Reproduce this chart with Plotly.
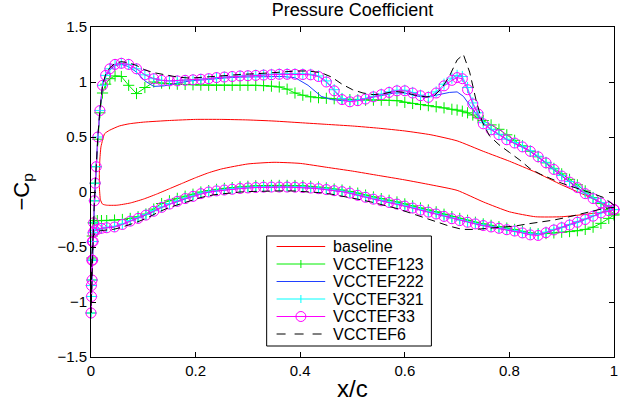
import plotly.graph_objects as go

# ---------------- data ----------------
# Stations for the marker series (fine), leading edge -> trailing edge
x_upper_fine = [0.0, 0.001, 0.002, 0.003, 0.004, 0.005, 0.0065, 0.008, 0.010, 0.013,
                0.017, 0.022, 0.028, 0.036, 0.046, 0.058, 0.072, 0.087, 0.103, 0.12,
                0.135, 0.15, 0.165, 0.18, 0.195, 0.21, 0.225, 0.24, 0.255, 0.27,
                0.285, 0.30, 0.315, 0.33, 0.345, 0.36, 0.375, 0.39, 0.405, 0.42,
                0.435, 0.45, 0.465, 0.48, 0.495, 0.51, 0.525, 0.54, 0.555, 0.57,
                0.585, 0.60, 0.615, 0.63, 0.645, 0.66, 0.675, 0.69, 0.70, 0.71,
                0.72, 0.73, 0.74, 0.75, 0.765, 0.78, 0.795, 0.81, 0.825, 0.84,
                0.855, 0.87, 0.885, 0.90, 0.915, 0.93, 0.945, 0.96, 0.975, 0.99,
                1.0]
x_lower_fine = [0.0008, 0.0016, 0.0025, 0.004, 0.007, 0.012, 0.02, 0.03,
                0.045, 0.06, 0.075, 0.09, 0.105, 0.12, 0.135, 0.15, 0.165, 0.18,
                0.195, 0.21, 0.225, 0.24, 0.255, 0.27, 0.285, 0.30, 0.315, 0.33,
                0.345, 0.36, 0.375, 0.39, 0.405, 0.42, 0.435, 0.45, 0.465, 0.48,
                0.495, 0.51, 0.525, 0.54, 0.555, 0.57, 0.585, 0.60, 0.615, 0.63,
                0.645, 0.66, 0.675, 0.69, 0.705, 0.72, 0.735, 0.75, 0.765, 0.78,
                0.795, 0.81, 0.825, 0.84, 0.855, 0.87, 0.885, 0.90, 0.915, 0.93,
                0.945, 0.96, 0.975, 0.99, 1.0]

# Stations for the line-only series
x_upper_line = [0.0, 0.001, 0.002, 0.003, 0.004, 0.005, 0.0065, 0.008, 0.010, 0.013,
                0.017, 0.022, 0.028, 0.036, 0.046, 0.058, 0.072, 0.087, 0.103, 0.12,
                0.14, 0.165, 0.19, 0.215, 0.24, 0.265, 0.29, 0.315, 0.34, 0.365,
                0.39, 0.415, 0.44, 0.46, 0.48, 0.50, 0.52, 0.54, 0.56, 0.58,
                0.60, 0.62, 0.64, 0.655, 0.67, 0.685, 0.70, 0.712, 0.724, 0.736,
                0.748, 0.762, 0.78, 0.80, 0.82, 0.84, 0.86, 0.88, 0.90, 0.92,
                0.94, 0.96, 0.98, 1.0]
x_lower_line = [0.0008, 0.0016, 0.0025, 0.004, 0.007, 0.012, 0.02, 0.03, 0.042, 0.056,
                0.072, 0.09, 0.11, 0.13, 0.15, 0.17, 0.19, 0.21, 0.235, 0.26,
                0.285, 0.31, 0.335, 0.36, 0.385, 0.41, 0.435, 0.46, 0.485, 0.51,
                0.535, 0.56, 0.585, 0.61, 0.635, 0.66, 0.685, 0.71, 0.735, 0.76,
                0.785, 0.81, 0.835, 0.86, 0.885, 0.91, 0.935, 0.96, 0.98, 1.0]

# baseline
base_x_upper = [0.018, 0.016, 0.016, 0.017, 0.019, 0.022, 0.026, 0.035, 0.054, 0.073,
                0.1, 0.15, 0.2, 0.25, 0.3, 0.35, 0.4, 0.45, 0.5, 0.55,
                0.6, 0.65, 0.7, 0.75, 0.8, 0.85, 0.9, 0.95, 1.0]
base_upper = [-0.07, 0.05, 0.17, 0.3, 0.41, 0.47, 0.53, 0.56, 0.6, 0.62,
              0.635, 0.65, 0.66, 0.66, 0.655, 0.645, 0.63, 0.615, 0.6, 0.58,
              0.555, 0.52, 0.465, 0.37, 0.28, 0.18, 0.065, -0.04, -0.16]
base_x_lower = [0.022, 0.03, 0.05, 0.075, 0.1, 0.125, 0.15, 0.175, 0.2, 0.225,
                0.25, 0.3, 0.35, 0.4, 0.45, 0.5, 0.55, 0.6, 0.65, 0.7,
                0.75, 0.8, 0.85, 0.9, 0.95, 1.0]
base_lower = [-0.11, -0.12, -0.12, -0.1, -0.065, -0.02, 0.03, 0.08, 0.13, 0.175,
              0.21, 0.255, 0.27, 0.26, 0.225, 0.19, 0.15, 0.11, 0.065, 0.015,
              -0.09, -0.18, -0.225, -0.225, -0.2, -0.16]

# VCCTEF123 (fine stations)
v123_upper = [-1.10, -0.95, -0.80, -0.62, -0.45, -0.28, -0.08, 0.08, 0.23, 0.48,
              0.72, 0.9, 0.98, 1.03, 1.055, 1.05, 0.97, 0.895, 0.95, 1.0,
              0.99, 0.985, 0.98, 0.978, 0.975, 0.972, 0.97, 0.97, 0.97, 0.97,
              0.97, 0.97, 0.97, 0.967, 0.962, 0.955, 0.935, 0.9, 0.88, 0.865,
              0.857, 0.852, 0.848, 0.845, 0.84, 0.837, 0.835, 0.835, 0.835, 0.833,
              0.83, 0.815, 0.805, 0.795, 0.785, 0.775, 0.765, 0.752, 0.745, 0.735,
              0.72, 0.7, 0.675, 0.65, 0.61, 0.57, 0.52, 0.47, 0.42, 0.37,
              0.32, 0.265, 0.215, 0.165, 0.115, 0.065, 0.01, -0.05, -0.105, -0.16,
              -0.2]
v123_lower = [-0.85, -0.6, -0.4, -0.28, -0.26, -0.26, -0.26, -0.26,
              -0.255, -0.25, -0.24, -0.225, -0.2, -0.155, -0.105, -0.08, -0.058, -0.038,
              -0.02, 0.0, 0.013, 0.024, 0.033, 0.04, 0.047, 0.052, 0.056, 0.059,
              0.06, 0.06, 0.06, 0.059, 0.056, 0.051, 0.045, 0.037, 0.027, 0.018,
              0.005, -0.01, -0.028, -0.045, -0.06, -0.075, -0.09, -0.108, -0.126, -0.145,
              -0.163, -0.18, -0.202, -0.223, -0.24, -0.257, -0.275, -0.29, -0.303, -0.315,
              -0.328, -0.34, -0.357, -0.372, -0.38, -0.378, -0.372, -0.366, -0.36, -0.352,
              -0.34, -0.32, -0.285, -0.24, -0.21]

# VCCTEF222 (line stations)
v222_upper = [-1.10, -0.95, -0.80, -0.62, -0.45, -0.28, -0.08, 0.08, 0.23, 0.5,
              0.74, 0.96, 1.05, 1.11, 1.15, 1.16, 1.14, 1.09, 1.01, 0.96,
              0.965, 0.99, 1.01, 1.02, 1.03, 1.04, 1.045, 1.05, 1.05, 1.05,
              1.04, 0.97, 0.87, 0.84, 0.83, 0.83, 0.845, 0.86, 0.88, 0.9,
              0.9, 0.875, 0.86, 0.87, 0.89, 0.905, 0.91, 0.87, 0.79, 0.71,
              0.64, 0.58, 0.525, 0.465, 0.42, 0.37, 0.30, 0.22, 0.145, 0.07,
              0.0, -0.06, -0.11, -0.16]
v222_lower = [-0.85, -0.62, -0.45, -0.37, -0.35, -0.34, -0.33, -0.325, -0.32, -0.3,
              -0.27, -0.24, -0.2, -0.15, -0.11, -0.08, -0.045, -0.015, 0.005, 0.02,
              0.035, 0.04, 0.045, 0.045, 0.045, 0.04, 0.03, 0.015, 0.0, -0.03,
              -0.06, -0.085, -0.11, -0.14, -0.17, -0.2, -0.235, -0.265, -0.29, -0.315,
              -0.335, -0.355, -0.38, -0.385, -0.345, -0.31, -0.27, -0.22, -0.18, -0.16]

# VCCTEF321 (fine stations)
v321_upper = [-1.10, -0.95, -0.80, -0.62, -0.45, -0.28, -0.08, 0.08, 0.23, 0.5,
              0.74, 0.97, 1.06, 1.12, 1.16, 1.17, 1.16, 1.12, 1.065, 1.03,
              1.015, 1.01, 1.01, 1.015, 1.02, 1.025, 1.03, 1.04, 1.045, 1.05,
              1.055, 1.058, 1.062, 1.066, 1.07, 1.073, 1.075, 1.075, 1.073, 1.07,
              1.055, 1.01, 0.93, 0.85, 0.83, 0.835, 0.85, 0.87, 0.89, 0.91,
              0.925, 0.925, 0.905, 0.88, 0.865, 0.91, 0.98, 1.035, 1.06, 1.05,
              0.95, 0.81, 0.72, 0.63, 0.57, 0.525, 0.48, 0.45, 0.415, 0.375,
              0.325, 0.27, 0.21, 0.15, 0.095, 0.045, -0.01, -0.055, -0.095, -0.13,
              -0.16]
v321_lower = [-0.85, -0.62, -0.45, -0.37, -0.35, -0.34, -0.33, -0.32,
              -0.312, -0.29, -0.26, -0.235, -0.205, -0.17, -0.135, -0.105, -0.08, -0.055,
              -0.035, -0.01, 0.005, 0.015, 0.023, 0.03, 0.037, 0.042, 0.046, 0.049,
              0.05, 0.05, 0.05, 0.049, 0.046, 0.041, 0.035, 0.027, 0.017, 0.008,
              -0.005, -0.025, -0.043, -0.06, -0.075, -0.09, -0.105, -0.123, -0.141, -0.16,
              -0.178, -0.195, -0.217, -0.238, -0.255, -0.27, -0.285, -0.3, -0.313, -0.325,
              -0.338, -0.35, -0.365, -0.38, -0.385, -0.365, -0.34, -0.32, -0.295, -0.27,
              -0.245, -0.215, -0.188, -0.168, -0.16]

# VCCTEF33 (fine stations)
v33_upper = [-1.10, -0.95, -0.80, -0.62, -0.45, -0.28, -0.08, 0.08, 0.23, 0.5,
             0.74, 0.97, 1.06, 1.12, 1.16, 1.17, 1.16, 1.12, 1.065, 1.03,
             1.015, 1.01, 1.01, 1.015, 1.02, 1.025, 1.03, 1.04, 1.045, 1.05,
             1.055, 1.057, 1.06, 1.063, 1.066, 1.07, 1.07, 1.07, 1.068, 1.065,
             1.05, 1.0, 0.92, 0.84, 0.82, 0.83, 0.845, 0.865, 0.885, 0.905,
             0.92, 0.92, 0.9, 0.875, 0.86, 0.9, 0.965, 1.015, 1.04, 1.03,
             0.93, 0.8, 0.71, 0.62, 0.565, 0.52, 0.475, 0.445, 0.41, 0.37,
             0.32, 0.265, 0.205, 0.145, 0.09, 0.04, -0.015, -0.06, -0.1, -0.135,
             -0.16]
v33_lower = [-0.85, -0.62, -0.45, -0.37, -0.35, -0.34, -0.33, -0.325,
             -0.318, -0.295, -0.265, -0.24, -0.21, -0.175, -0.14, -0.11, -0.085, -0.06,
             -0.04, -0.015, 0.0, 0.01, 0.018, 0.025, 0.032, 0.037, 0.041, 0.044,
             0.045, 0.045, 0.045, 0.044, 0.041, 0.036, 0.03, 0.022, 0.012, 0.003,
             -0.01, -0.03, -0.048, -0.065, -0.08, -0.095, -0.11, -0.128, -0.146, -0.165,
             -0.183, -0.2, -0.222, -0.243, -0.26, -0.275, -0.29, -0.305, -0.318, -0.33,
             -0.343, -0.355, -0.372, -0.39, -0.395, -0.37, -0.345, -0.325, -0.3, -0.275,
             -0.25, -0.22, -0.19, -0.17, -0.16]

# VCCTEF6 (line stations)
v6_upper = [-1.10, -0.95, -0.80, -0.62, -0.45, -0.28, -0.08, 0.08, 0.23, 0.5,
            0.74, 0.97, 1.07, 1.13, 1.17, 1.185, 1.175, 1.15, 1.11, 1.085,
            1.065, 1.045, 1.035, 1.04, 1.05, 1.06, 1.07, 1.075, 1.08, 1.09,
            1.1, 1.1, 1.085, 1.045, 0.98, 0.93, 0.9, 0.885, 0.895, 0.915,
            0.905, 0.88, 0.865, 0.87, 0.94, 1.05, 1.2, 1.25, 1.09, 0.84,
            0.64, 0.51, 0.43, 0.36, 0.29, 0.21, 0.16, 0.12, 0.08, 0.05,
            0.015, -0.015, -0.05, -0.12]
v6_lower = [-0.85, -0.62, -0.47, -0.4, -0.38, -0.36, -0.35, -0.345, -0.34, -0.325,
            -0.3, -0.27, -0.23, -0.18, -0.14, -0.11, -0.08, -0.05, -0.025, -0.01,
            0.0, 0.005, 0.01, 0.01, 0.01, 0.005, -0.005, -0.02, -0.04, -0.065,
            -0.09, -0.12, -0.15, -0.19, -0.23, -0.27, -0.31, -0.34, -0.34, -0.33,
            -0.32, -0.31, -0.29, -0.275, -0.255, -0.23, -0.2, -0.17, -0.15, -0.14]

series_names = ["baseline", "VCCTEF123", "VCCTEF222", "VCCTEF321", "VCCTEF33", "VCCTEF6"]
x_ticks = [0, 0.2, 0.4, 0.6, 0.8, 1]
y_ticks = [-1.5, -1, -0.5, 0, 0.5, 1, 1.5]


def loop(xu, yu, xl, yl):
    """upper surface trailing edge -> leading edge, then lower surface back."""
    return list(xu)[::-1] + list(xl), list(yu)[::-1] + list(yl)


FONT = "Liberation Sans, Arial, Helvetica, sans-serif"
W, H = 621, 405
ML, MR, MT, MB = 91, 3, 27, 48
PW, PH = W - ML - MR, H - MT - MB


def px(xp):  # pixel -> paper x
    return (xp - ML) / PW


def py(yp):  # pixel -> paper y
    return (H - MB - yp) / PH


colors = ["#ff0000", "#00ee00", "#2040ff", "#00ffff", "#ff00ff", "#000000"]
dashes = ["solid", "solid", "solid", "solid", "solid", "8px,5px"]
symbols = [None, "cross", None, "cross", "circle", None]

fig = go.Figure()

bx, by = loop(base_x_upper, base_upper, base_x_lower, base_lower)
fig.add_trace(go.Scatter(x=bx, y=by, mode="lines", name=series_names[0],
                         line=dict(color=colors[0], width=1, shape="spline", smoothing=0.5),
                         cliponaxis=False, showlegend=False))

series = [
    (x_upper_fine, v123_upper, x_lower_fine, v123_lower),
    (x_upper_line, v222_upper, x_lower_line, v222_lower),
    (x_upper_fine, v321_upper, x_lower_fine, v321_lower),
    (x_upper_fine, v33_upper, x_lower_fine, v33_lower),
    (x_upper_line, v6_upper, x_lower_line, v6_lower),
]
for i, (xu, yu, xl, yl) in enumerate(series, start=1):
    xx, yy = loop(xu, yu, xl, yl)
    col = colors[i]
    kw = dict(mode="lines")
    if symbols[i] == "cross":
        kw = dict(mode="lines+markers",
                  marker=dict(symbol="cross-thin", size=8, color=col,
                              line=dict(width=1, color=col)))
    elif symbols[i] == "circle":
        kw = dict(mode="lines+markers",
                  marker=dict(symbol="circle-open", size=10, color=col,
                              line=dict(width=1, color=col)))
    fig.add_trace(go.Scatter(x=xx, y=yy, name=series_names[i],
                             line=dict(color=col, width=1, dash=dashes[i]),
                             cliponaxis=False, showlegend=False, **kw))

axis_common = dict(showline=True, linecolor="black", linewidth=1, mirror="ticks",
                   ticks="inside", ticklen=5, tickcolor="black", showgrid=False,
                   zeroline=False, ticklabeloverflow="allow",
                   tickfont=dict(family=FONT, size=15, color="black"))
fig.update_xaxes(range=[0, 1], tickvals=x_ticks, **axis_common)
fig.update_yaxes(range=[-1.5, 1.5], tickvals=y_ticks, **axis_common)

# ---- legend (box, sample lines/markers, labels) ----
shapes = [dict(type="rect", xref="paper", yref="paper", layer="above",
               x0=px(268), x1=px(434), y0=py(346), y1=py(236),
               line=dict(color="black", width=1), fillcolor="white")]
annotations = []
for i, name in enumerate(series_names):
    yc = 246.5 + 17.5 * i
    shapes.append(dict(type="line", xref="paper", yref="paper", layer="above",
                       x0=px(278), x1=px(327), y0=py(yc), y1=py(yc),
                       line=dict(color=colors[i], width=1,
                                 dash="dash" if dashes[i] != "solid" else "solid")))
    if symbols[i] == "cross":
        shapes.append(dict(type="line", xref="paper", yref="paper", layer="above",
                           x0=px(302.5), x1=px(302.5), y0=py(yc - 4), y1=py(yc + 4),
                           line=dict(color=colors[i], width=1)))
    elif symbols[i] == "circle":
        shapes.append(dict(type="circle", xref="paper", yref="paper", layer="above",
                           x0=px(297.5), x1=px(307.5), y0=py(yc + 5), y1=py(yc - 5),
                           line=dict(color=colors[i], width=1), fillcolor="rgba(0,0,0,0)"))
    annotations.append(dict(text=name, xref="paper", yref="paper", x=px(333), y=py(yc),
                            xanchor="left", yanchor="middle", showarrow=False,
                            font=dict(family=FONT, size=16, color="black")))

annotations += [
    dict(text="x/c", xref="paper", yref="paper", x=0.5, y=py(388),
         xanchor="center", yanchor="middle", showarrow=False,
         font=dict(family=FONT, size=24, color="black")),
    dict(text="\u2212C<sub>p</sub>", xref="paper", yref="paper", x=px(22), y=0.5,
         xanchor="center", yanchor="middle", showarrow=False, textangle=-90,
         font=dict(family=FONT, size=22, color="black")),
]

fig.update_layout(
    width=W, height=H,
    margin=dict(l=ML, r=MR, t=MT, b=MB),
    paper_bgcolor="white", plot_bgcolor="white",
    showlegend=False,
    title=dict(text="Pressure Coefficient", x=0.5, xref="paper", xanchor="center",
               y=1 - 10 / H, yref="container", yanchor="middle",
               font=dict(family=FONT, size=18, color="black")),
    shapes=shapes,
    annotations=annotations,
)

fig.write_html("out.html")
